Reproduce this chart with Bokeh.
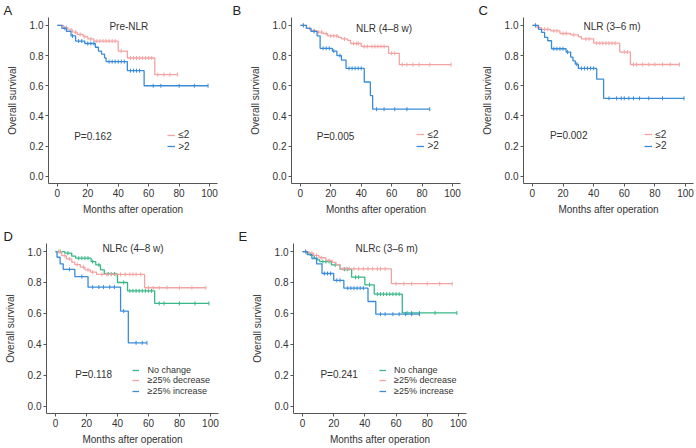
import numpy as np
from bokeh.plotting import figure
from bokeh.models import Range1d, FixedTicker, NumeralTickFormatter, Label, Legend, LegendItem
from bokeh.layouts import row, column
from bokeh.embed import file_html
from bokeh.resources import INLINE

# ---------------- data ----------------
x_ticks = [0, 20, 40, 60, 80, 100]
y_ticks = [0.0, 0.2, 0.4, 0.6, 0.8, 1.0]

# A: Pre-NLR
A_le2_t = [0, 4, 7, 10, 13, 17, 20, 24, 40, 46, 64]
A_le2_s = [1.0, 0.985, 0.97, 0.955, 0.94, 0.925, 0.91, 0.896, 0.83, 0.784, 0.674]
A_le2_end = 79
A_le2_c = [6, 9, 12, 15, 18, 22, 26, 28, 30, 32, 34, 36, 38, 42, 48, 50, 52, 54, 56, 58, 60, 62, 66, 70, 74, 79]
A_gt2_t = [0, 3, 6, 9, 12, 18, 25, 27, 29, 31, 32, 46, 57]
A_gt2_s = [1.0, 0.98, 0.96, 0.93, 0.896, 0.88, 0.855, 0.83, 0.81, 0.785, 0.76, 0.70, 0.60]
A_gt2_end = 99
A_gt2_c = [5, 10, 14, 16, 20, 22, 24, 34, 36, 38, 40, 42, 44, 48, 50, 52, 54, 63, 68, 80, 90, 99]

# B: NLR (4-8 w)
B_le2_t = [0, 4, 7, 11, 15, 18, 25, 27, 31, 33, 40, 58, 65]
B_le2_s = [1.0, 0.98, 0.965, 0.955, 0.945, 0.93, 0.92, 0.91, 0.90, 0.88, 0.86, 0.815, 0.74]
B_le2_end = 99
B_le2_c = [2, 6, 9, 12, 14, 17, 20, 22, 24, 29, 35, 37, 38, 42, 44, 47, 49, 51, 53, 55, 60, 62, 67, 70, 74, 78, 85, 99]
B_gt2_t = [0, 4, 7, 11, 13, 21, 24, 27, 30, 42, 46, 47.5]
B_gt2_s = [1.0, 0.98, 0.96, 0.93, 0.848, 0.83, 0.80, 0.77, 0.715, 0.625, 0.535, 0.445]
B_gt2_end = 85
B_gt2_c = [2, 9, 15, 17, 19, 22, 26, 32, 34, 36, 38, 40, 50, 55, 62, 70, 85]

# C: NLR (3-6 m)
C_le2_t = [0, 3, 6, 12, 18, 25, 30, 32, 40, 57, 64]
C_le2_s = [1.0, 0.985, 0.974, 0.963, 0.946, 0.937, 0.925, 0.91, 0.882, 0.823, 0.741]
C_le2_end = 96
C_le2_c = [2, 8, 10, 14, 16, 20, 22, 27, 35, 37, 42, 44, 46, 48, 50, 52, 54, 60, 62, 66, 68, 72, 76, 80, 85, 90, 96]
C_gt2_t = [0, 4, 6, 8, 10, 12.5, 22, 25, 26.5, 28, 30, 42, 46.5]
C_gt2_s = [1.0, 0.974, 0.953, 0.92, 0.898, 0.845, 0.823, 0.79, 0.765, 0.743, 0.715, 0.644, 0.517]
C_gt2_end = 99
C_gt2_c = [2, 14, 16, 18, 20, 23, 29, 32, 34, 36, 38, 40, 50, 55, 58, 60, 63, 66, 70, 76, 85, 99]

# D: NLRc (4-8 w)
D_nc_t = [0, 6, 10.5, 13, 23, 26, 29, 31.5, 40, 46.5, 64]
D_nc_s = [1.0, 0.99, 0.97, 0.957, 0.935, 0.914, 0.882, 0.855, 0.80, 0.746, 0.665]
D_nc_end = 99
D_nc_c = [3, 8, 15, 17, 19, 21, 24, 28, 34, 36, 38, 44, 48, 50, 52, 54, 56, 58, 60, 62, 67, 70, 80, 90, 99]
D_dec_t = [0, 4, 7, 10.5, 12.5, 16, 19, 22.5, 26.5, 57.5]
D_dec_s = [1.0, 0.973, 0.952, 0.931, 0.916, 0.899, 0.882, 0.867, 0.852, 0.766]
D_dec_end = 97
D_dec_c = [2, 6, 9, 14, 18, 21, 24, 30, 33, 36, 39, 42, 45, 48, 50, 52, 55, 60, 63, 67, 72, 80, 88, 97]
D_inc_t = [0, 1, 3, 5, 12.5, 21, 42, 47]
D_inc_s = [1.0, 0.963, 0.92, 0.885, 0.838, 0.77, 0.615, 0.41]
D_inc_end = 59
D_inc_c = [9, 17, 24, 28, 31, 35, 38, 44, 52, 56, 59]

# E: NLRc (3-6 m)
E_nc_t = [0, 3, 5, 7.5, 9.5, 11, 18.5, 24, 31.5, 40, 46, 64]
E_nc_s = [1.0, 0.99, 0.975, 0.957, 0.946, 0.935, 0.914, 0.886, 0.834, 0.785, 0.725, 0.603]
E_nc_end = 99
E_nc_c = [13, 15, 17, 21, 27, 29, 34, 36, 43, 48, 50, 52, 54, 56, 58, 60, 62, 67, 70, 75, 85, 99]
E_dec_t = [0, 4, 7, 10.5, 15, 19, 21.5, 24, 57]
E_dec_s = [1.0, 0.99, 0.975, 0.96, 0.942, 0.93, 0.915, 0.888, 0.792]
E_dec_end = 96
E_dec_c = [2, 6, 9, 12, 17, 26, 28, 30, 33, 36, 39, 42, 45, 48, 50, 53, 60, 65, 70, 80, 88, 96]
E_inc_t = [0, 3, 6, 9, 12.5, 20, 26.5, 42, 47]
E_inc_s = [1.0, 0.98, 0.955, 0.92, 0.858, 0.814, 0.763, 0.677, 0.595]
E_inc_end = 75
E_inc_c = [2, 14, 16, 18, 22, 24, 29, 31, 33, 35, 37, 39, 50, 53, 58, 62, 66, 70, 75]

# ---------------- styling ----------------
PINK = "#F4A3A3"
BLUE = "#3A8CD8"
GREEN = "#37B886"
FONT = "Liberation Sans"
TXT = "#333333"
AX = "#555555"
X0, X1 = -5.8, 105.2
Y0, Y1 = -0.047, 1.052


def surv_at(t, s, c):
    idx = np.searchsorted(np.asarray(t, float), np.asarray(c, float), side="right") - 1
    return np.asarray(s, float)[idx]


def panel(w, h, bl, br, bt, bb, letter, loff, title, txy, pval, pxy,
          curves, lx, lyc, pitch, lfont, lstand, lglyph, item_h):
    p = figure(width=w, height=h, x_range=Range1d(X0, X1), y_range=Range1d(Y0, Y1),
               output_backend="svg", toolbar_location=None,
               min_border_left=bl, min_border_right=br, min_border_top=bt, min_border_bottom=bb)
    p.outline_line_color = None
    p.grid.visible = False
    p.xaxis.ticker = FixedTicker(ticks=x_ticks)
    p.yaxis.ticker = FixedTicker(ticks=y_ticks)
    p.yaxis.formatter = NumeralTickFormatter(format="0.0")
    p.xaxis.axis_label = "Months after operation"
    p.yaxis.axis_label = "Overall survival"
    for ax in p.axis:
        ax.axis_line_color = AX
        ax.axis_line_width = 1
        ax.major_tick_line_color = AX
        ax.major_tick_in = 0
        ax.major_tick_out = 3
        ax.minor_tick_line_color = None
        ax.major_label_text_font = FONT
        ax.major_label_text_font_size = "10px"
        ax.major_label_text_color = TXT
        ax.major_label_standoff = 2
        ax.axis_label_text_font = FONT
        ax.axis_label_text_font_size = "10px"
        ax.axis_label_text_font_style = "normal"
        ax.axis_label_text_color = TXT
    p.xaxis.axis_label_standoff = 4
    p.yaxis.axis_label_standoff = 9

    # panel letter as the figure title, pushed left of the frame
    p.title.text = letter
    p.title.align = "left"
    p.title.offset = loff
    p.title.standoff = 0
    p.title.text_font = FONT
    p.title.text_font_size = "13px"
    p.title.text_font_style = "normal"
    p.title.text_color = "#222222"

    fw = w - bl - br
    fh = h - bt - bb
    sx = (lx - X0) / (X1 - X0) * fw
    fyc = (lyc - Y0) / (Y1 - Y0) * fh

    for i, (lab, t, s, end, cens, col) in enumerate(curves):
        xs = list(t) + [end]
        ys = list(s) + [s[-1]]
        r = p.step(xs, ys, mode="after", line_color=col, line_width=1.3)
        cy = surv_at(t, s, cens)
        p.scatter(cens, cy, marker="dash", angle=np.pi / 2, size=4,
                  line_color=col, line_width=1)
        # one legend per item so that the item pitch matches the reference
        yc = fyc - i * pitch
        leg = Legend(items=[LegendItem(label=lab, renderers=[r])],
                     location=(sx, yc - item_h / 2),
                     label_text_font=FONT, label_text_font_size=lfont, label_text_color=TXT,
                     glyph_width=lglyph, glyph_height=8, label_height=9, label_standoff=lstand,
                     spacing=0, padding=0, margin=0,
                     border_line_color=None, background_fill_alpha=0)
        p.add_layout(leg)

    p.add_layout(Label(x=txy[0], y=txy[1], text=title, text_font=FONT, text_font_size="10px",
                       text_color=TXT, text_align="center", text_baseline="middle"))
    p.add_layout(Label(x=pxy[0], y=pxy[1], text=pval, text_font=FONT, text_font_size="10px",
                       text_color=TXT, text_align="center", text_baseline="middle"))
    return p


pA = panel(231, 220, 48, 14, 13, 37, "A", -45, "Pre-NLR", (47, 0.99), "P=0.162", (23.4, 0.264),
           [("≤2", A_le2_t, A_le2_s, A_le2_end, A_le2_c, PINK),
            (">2", A_gt2_t, A_gt2_s, A_gt2_end, A_gt2_c, BLUE)],
           72.5, 0.277, 11.5, "10px", 3, 8, 15)
pB = panel(247, 220, 60, 18, 13, 37, "B", -59, "NLR (4–8 w)", (55, 0.98), "P=0.005", (23.1, 0.266),
           [("≤2", B_le2_t, B_le2_s, B_le2_end, B_le2_c, PINK),
            (">2", B_gt2_t, B_gt2_s, B_gt2_end, B_gt2_c, BLUE)],
           76.6, 0.28, 11.5, "10px", 3, 8, 15)
pC = panel(217, 220, 45, 2, 13, 37, "C", -45, "NLR (3–6 m)", (52, 0.99), "P=0.002", (23.7, 0.27),
           [("≤2", C_le2_t, C_le2_s, C_le2_end, C_le2_c, PINK),
            (">2", C_gt2_t, C_gt2_s, C_gt2_end, C_gt2_c, BLUE)],
           73.3, 0.28, 11.5, "10px", 3, 8, 15)
pD = panel(236, 227, 46, 18, 23, 33, "D", -43, "NLRc (4–8 w)", (50, 1.02), "P=0.118", (24.6, 0.203),
           [("No change", D_nc_t, D_nc_s, D_nc_end, D_nc_c, GREEN),
            ("≥25% decrease", D_dec_t, D_dec_s, D_dec_end, D_dec_c, PINK),
            ("≥25% increase", D_inc_t, D_inc_s, D_inc_end, D_inc_c, BLUE)],
           50, 0.24, 10.5, "9px", 8, 7, 13)
pE = panel(260, 227, 57, 30, 23, 33, "E", -55, "NLRc (3–6 m)", (54, 1.02), "P=0.241", (23.5, 0.203),
           [("No change", E_nc_t, E_nc_s, E_nc_end, E_nc_c, GREEN),
            ("≥25% decrease", E_dec_t, E_dec_s, E_dec_end, E_dec_c, PINK),
            ("≥25% increase", E_inc_t, E_inc_s, E_inc_end, E_inc_c, BLUE)],
           49.4, 0.24, 10.5, "9px", 8, 7, 13)

layout = column(row(pA, pB, pC), row(pD, pE))
open("out.html", "w").write(file_html(layout, INLINE))
